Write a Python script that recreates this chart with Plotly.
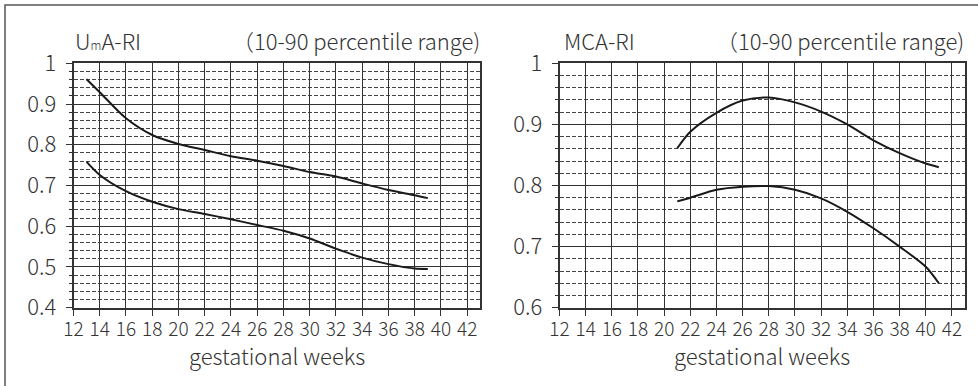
import plotly.graph_objects as go

# ---- data ----
uma_weeks = [13, 14, 16, 18, 20, 22, 24, 26, 28, 30, 32, 34, 36, 38, 39]
uma_p90 = [0.961, 0.929, 0.865, 0.824, 0.802, 0.787, 0.772, 0.761, 0.748, 0.733, 0.722, 0.705, 0.689, 0.676, 0.669]
uma_p10 = [0.758, 0.726, 0.686, 0.660, 0.642, 0.630, 0.617, 0.603, 0.589, 0.570, 0.545, 0.523, 0.507, 0.496, 0.495]

mca_weeks = [21, 22, 24, 26, 28, 30, 32, 34, 36, 38, 40, 41]
mca_p90 = [0.861, 0.888, 0.919, 0.939, 0.944, 0.936, 0.921, 0.900, 0.874, 0.853, 0.836, 0.830]
mca_p10 = [0.774, 0.780, 0.793, 0.798, 0.799, 0.793, 0.779, 0.757, 0.730, 0.700, 0.667, 0.640]

x_ticks = list(range(12, 43, 2))
left_title = "U<span style='font-size:12px'>m</span>A-RI"
right_title = "MCA-RI"
range_note = "（10-90 percentile range)"
x_title = "gestational weeks"

W, H = 978, 386
FONT = "Noto Sans CJK JP, Noto Sans, sans-serif"
TXT = "#333333"
GRID = "#333333"
FS = 22

fig = go.Figure()
for xs, ys, xa, ya in [
    (uma_weeks, uma_p90, "x", "y"), (uma_weeks, uma_p10, "x", "y"),
    (mca_weeks, mca_p90, "x2", "y2"), (mca_weeks, mca_p10, "x2", "y2"),
]:
    fig.add_trace(go.Scatter(x=xs, y=ys, xaxis=xa, yaxis=ya, mode="lines",
                             line=dict(color="#1a1a1a", width=2, shape="spline", smoothing=0.8),
                             showlegend=False, hoverinfo="skip"))

ydom = [(H - 307.7) / H, (H - 63.3) / H]
tfont = dict(family=FONT, size=FS, color=TXT, weight=300)
xfont = dict(family=FONT, size=19, color=TXT, weight=300)

def xaxis(dom, anchor):
    return dict(domain=dom, anchor=anchor, range=[12, 43], tickmode="array", tickvals=x_ticks,
                ticktext=[str(t) for t in x_ticks], tickangle=0,
                showgrid=True, gridcolor=GRID, gridwidth=1.3,
                showline=True, linecolor=GRID, linewidth=1.6, mirror=True,
                ticks="outside", ticklen=6, tickcolor=GRID, tickwidth=1.3,
                tickfont=xfont, ticklabelstandoff=-2,
                zeroline=False, automargin=False, fixedrange=True)

def yaxis(rng, anchor):
    return dict(domain=ydom, anchor=anchor, range=rng, dtick=0.1, tick0=0,
                showgrid=True, gridcolor=GRID, gridwidth=1.3,
                showline=True, linecolor=GRID, linewidth=1.6, mirror=True,
                ticks="outside", ticklen=6, tickcolor=GRID, tickwidth=1.3,
                tickfont=tfont, ticklabelstandoff=5,
                minor=dict(dtick=0.02, showgrid=True, gridcolor="#444444", gridwidth=1,
                           griddash="4px,2px", ticks="outside", ticklen=3, tickcolor=GRID),
                zeroline=False, automargin=False, fixedrange=True)

lx = [73.5 / W, 480.3 / W]
rx = [559.5 / W, 965.0 / W]

fig.update_layout(
    width=W, height=H,
    margin=dict(l=0, r=0, t=0, b=0),
    paper_bgcolor="white", plot_bgcolor="white",
    xaxis=xaxis(lx, "y"), yaxis=yaxis([0.4, 1.0], "x"),
    xaxis2=xaxis(rx, "y2"), yaxis2=yaxis([0.6, 1.0], "x2"),
    font=dict(family=FONT, color=TXT),
)

def note(text, x, y, anchor):
    fig.add_annotation(text=text, x=x / W, y=(H - y) / H, xref="paper", yref="paper",
                       xanchor=anchor, yanchor="middle", showarrow=False, font=tfont)

note(left_title, 73, 40, "left")
note(range_note, 482, 40, "right")
note(right_title, 562, 40, "left")
note(range_note, 966, 40, "right")
note(x_title, (lx[0] + lx[1]) / 2 * W, 355, "center")
note(x_title, (rx[0] + rx[1]) / 2 * W, 355, "center")

# outer frame (only the top and left edges are inside the picture)
fig.add_shape(type="rect", xref="paper", yref="paper",
              x0=5 / W, y0=-0.05, x1=1.05, y1=(H - 5) / H,
              line=dict(color="#555555", width=1.5), layer="below")

fig.write_html("out.html", config={"displayModeBar": False},
               post_script="document.body.style.margin='0';")
